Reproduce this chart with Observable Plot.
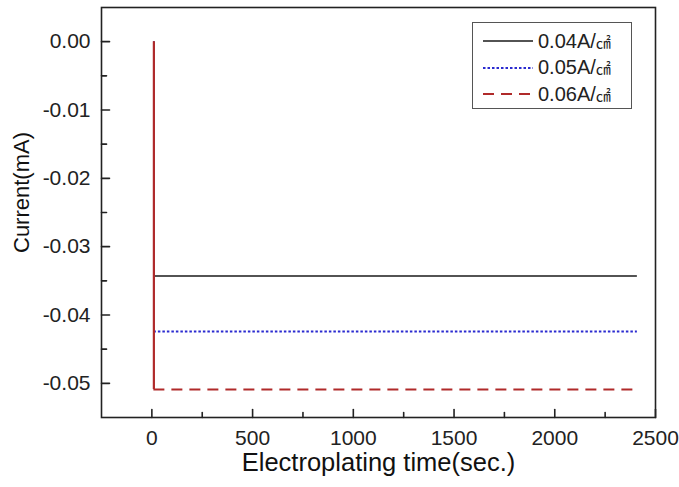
<!DOCTYPE html>
<html>
<head>
<meta charset="utf-8">
<script src="https://cdn.jsdelivr.net/npm/d3@7"></script>
<script src="https://cdn.jsdelivr.net/npm/@observablehq/plot@0.6"></script>
<style>
  body { margin: 0; background: #fff; }
  #wrap { position: relative; width: 679px; height: 487px; font-family: "Liberation Sans", Arial, "Noto Sans CJK KR", sans-serif; }
  #legend { position: absolute; left: 472px; top: 22px; width: 160px; height: 87px; border: 1px solid #555; background: #fff; box-sizing: border-box; }
  .row { position: absolute; left: 0; height: 26px; display: flex; align-items: center; white-space: nowrap; }
  .row svg { margin-left: 10px; }
  .row span { margin-left: 5px; font-size: 20px; color: #222; }
  .row span small { font-size: 15px; }
</style>
</head>
<body>
<div id="wrap"></div>
<script>
// ---- data ----
const seriesNames = ["0.04A/㎠", "0.05A/㎠", "0.06A/㎠"];
const seriesCurrent = [-0.0343, -0.0424, -0.0509]; // mA, steady value
const seriesStart = [10, 10, 10];                   // sec, step time
const seriesEnd = [2410, 2410, 2400];               // sec, last sample
const seriesColors = ["#1a1a1a", "#2b2bd0", "#b02a2a"];
const seriesDash = [null, "2.5,2", "11,7"];
const xTicks = [0, 500, 1000, 1500, 2000, 2500];
const xMinorTicks = [250, 750, 1250, 1750, 2250];
const yTicks = [0, -0.01, -0.02, -0.03, -0.04, -0.05];
const yMinorTicks = [-0.005, -0.015, -0.025, -0.035, -0.045];

const series = seriesNames.map((name, i) => ({
  name, v: seriesCurrent[i], t0: seriesStart[i], t1: seriesEnd[i],
  color: seriesColors[i], dash: seriesDash[i]
}));

const tickShape = {draw(ctx, l) { ctx.moveTo(0, 0); ctx.lineTo(0, -l); }};
const marks = [];
// horizontal steady-state parts
series.forEach(s => {
  marks.push(Plot.ruleY([s], {y: "v", x1: "t0", x2: "t1", stroke: s.color,
    strokeWidth: s.dash ? 2 : 1.6, strokeDasharray: s.dash || undefined}));
});
// vertical step parts (drawn solid, last series on top)
series.forEach((s, i) => {
  marks.push(Plot.ruleX([s], {x: "t0", y1: () => 0, y2: "v", stroke: s.color,
    strokeWidth: i === series.length - 1 ? 2.2 : 1.2}));
});
// inward ticks
marks.push(
  Plot.vector(yTicks, {y: d => d, frameAnchor: "left", length: 8, rotate: 90, anchor: "start", stroke: "#222", strokeWidth: 1.6, shape: tickShape}),
  Plot.vector(yMinorTicks, {y: d => d, frameAnchor: "left", length: 5, rotate: 90, anchor: "start", stroke: "#222", strokeWidth: 1.6, shape: tickShape}),
  Plot.vector(xTicks, {x: d => d, frameAnchor: "bottom", length: 8, rotate: 0, anchor: "start", stroke: "#222", strokeWidth: 1.6, shape: tickShape}),
  Plot.vector(xMinorTicks, {x: d => d, frameAnchor: "bottom", length: 5, rotate: 0, anchor: "start", stroke: "#222", strokeWidth: 1.6, shape: tickShape}),
  Plot.frame({stroke: "#222", strokeWidth: 1.6}),
  Plot.axisX({ticks: xTicks, tickSize: 0, tickPadding: 13, tickFormat: d => String(d), label: null}),
  Plot.axisY({ticks: yTicks, tickSize: 0, tickPadding: 11, tickFormat: d => d.toFixed(2), label: null}),
  Plot.text(["Electroplating time(sec.)"], {frameAnchor: "bottom", lineAnchor: "middle", textAnchor: "middle", dy: 45, fontSize: 25.5, fill: "#111"}),
  Plot.text(["Current(mA)"], {frameAnchor: "left", lineAnchor: "middle", textAnchor: "middle", dx: -80, dy: -20, rotate: -90, fontSize: 22, fill: "#111"})
);

const chart = Plot.plot({
  width: 679,
  height: 487,
  marginLeft: 101,
  marginRight: 24,
  marginTop: 7,
  marginBottom: 70,
  style: {fontFamily: '"Liberation Sans", Arial, sans-serif', fontSize: "21px", color: "#222", background: "#fff", overflow: "visible"},
  x: {domain: [-250, 2500]},
  y: {domain: [-0.055, 0.005]},
  marks
});
const wrap = document.getElementById("wrap");
wrap.appendChild(chart);

// legend
const legend = document.createElement("div");
legend.id = "legend";
series.forEach((s, i) => {
  const row = document.createElement("div");
  row.className = "row";
  row.style.top = (5 + i * 26.5) + "px";
  const txt = s.name.replace("㎠", "<small>㎠</small>");
  row.innerHTML = `<svg width="50" height="6"><line x1="0" x2="50" y1="3" y2="3" stroke="${s.color}" stroke-width="${s.dash ? 2 : 1.6}" ${s.dash ? `stroke-dasharray="${s.dash}"` : ""}/></svg><span>${txt}</span>`;
  legend.appendChild(row);
});
wrap.appendChild(legend);
</script>
</body>
</html>
